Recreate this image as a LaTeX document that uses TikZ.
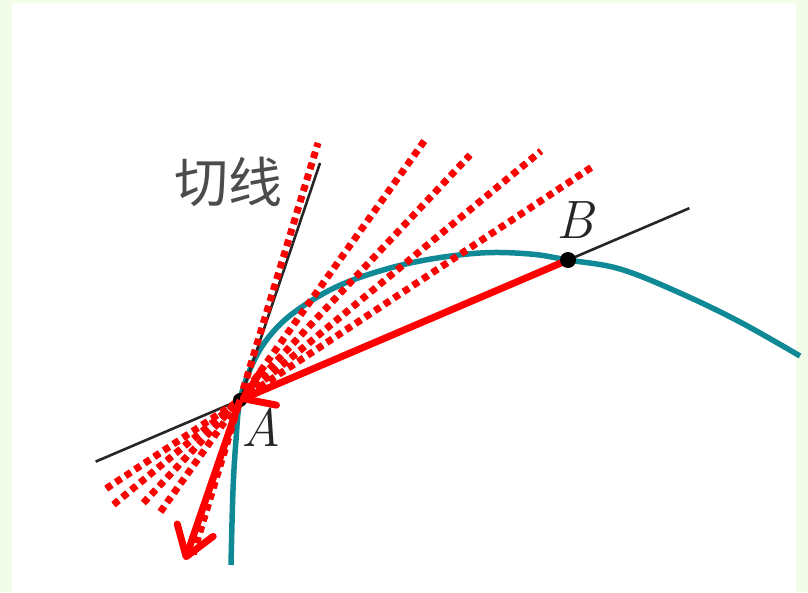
\documentclass[tikz,border=0pt]{standalone}
\usepackage{fontspec}
\newfontfamily\cjk{Noto Sans CJK SC}
\usetikzlibrary{arrows.meta,calc}
\definecolor{curveteal}{RGB}{16,137,150}
\definecolor{framegreen}{RGB}{242,252,232}

\begin{document}
\begin{tikzpicture}[x=1pt, y=-1pt,
  curve/.style={curveteal, line width=5.5pt},
  thinline/.style={black!85, line width=2.6pt},
  dots/.style={red, line width=7pt, dash pattern=on 6.5pt off 5pt},
  dotshadow/.style={black!65, line width=4.5pt, dash pattern=on 6.5pt off 5pt,
                    shift={(4,6)}},
  vec/.style={red, line width=7pt,
              -{Straight Barb[length=28pt, width=38pt, round]}},
  lab/.style={font=\fontsize{54}{58}\selectfont\itshape, text=black!85}]
% frame
\fill[framegreen] (0,0) rectangle (808,592);
\fill[white] (12,3) rectangle (796,592);
\useasboundingbox (0,0) rectangle (808,592);

\coordinate (A) at (240,400);
\coordinate (B) at (568,260);
\coordinate (T) at (320,163);
\coordinate (D) at (185,560);
% ends of the dotted lines
\coordinate (tan) at (318,143);
\coordinate (s1) at (425,140);
\coordinate (s2) at (470,155);
\coordinate (s3) at (541,151);
\coordinate (s4) at (592,167);

\draw[curve] plot[smooth, tension=0.6] coordinates {
  (231,565) (233,490) (236,440) (240,400) (252,365) (268,338) (292,314)
  (330,290) (370,274) (420,261) (480,253) (530,254) (568,260) (620,269)
  (680,293) (740,322) (800,356)};

\draw[thinline] ($(A)!-0.44!(B)$) -- ($(B)!-0.37!(A)$);
\draw[thinline] ($(A)!-0.1!(T)$) -- (T);

\foreach \p/\t in {tan/0.6, s1/0.43, s2/0.42, s3/0.42, s4/0.38} {
  \draw[dotshadow] ($(A)!-\t!(\p)$) -- (\p);
  \draw[dots] ($(A)!-\t!(\p)$) -- (\p);
}

\fill (A) circle (7);
\draw[vec] (B) -- (A);
\draw[vec] (A) -- (D);
\fill (B) circle (8);

\node[lab] (labA) at (261,427) {A};
\node[lab] (labB) at (575,220) {B};
\node[font=\cjk\fontsize{54}{58}\selectfont, text=black!70] (tanlab)
  at (228,182) {切线};
\end{tikzpicture}
\end{document}
